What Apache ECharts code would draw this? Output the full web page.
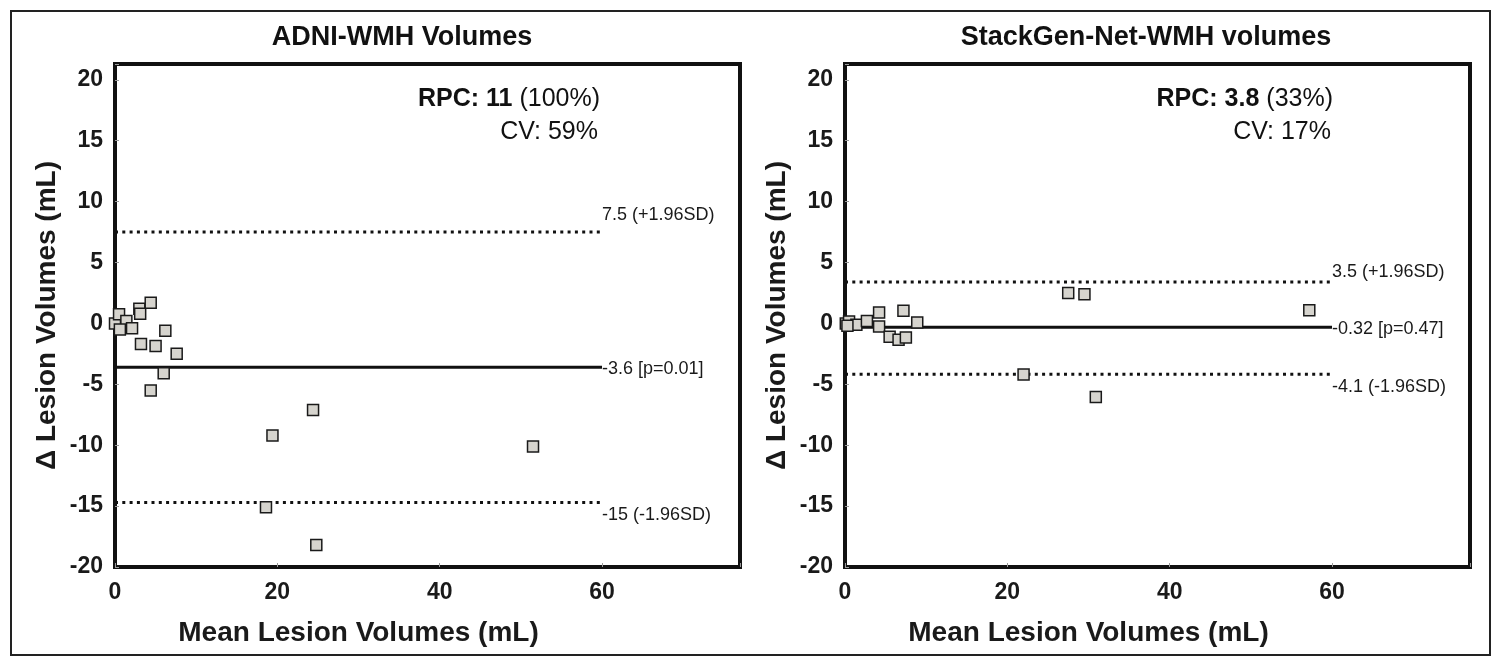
<!DOCTYPE html>
<html>
<head>
<meta charset="utf-8">
<script src="https://cdn.jsdelivr.net/npm/echarts@6/dist/echarts.min.js"></script>
<style>
html,body{margin:0;padding:0;background:#fff;}
#c{width:1500px;height:666px;}
</style>
</head>
<body>
<div id="c"></div>
<script>
// ---- data ----
const panelTitles = ['ADNI-WMH Volumes', 'StackGen-Net-WMH volumes'];
const xTitle = 'Mean Lesion Volumes (mL)';
const yTitle = '\u0394 Lesion Volumes (mL)';

const leftX = [0, 0.5, 1.4, 0.6, 2.1, 3.0, 3.1, 4.4, 6.2, 3.2, 5.0, 7.6, 6.0, 4.4, 19.4, 18.6, 24.8, 24.4, 51.5];
const leftY = [0, 0.75, 0.2, -0.5, -0.4, 1.2, 0.8, 1.7, -0.6, -1.7, -1.85, -2.5, -4.1, -5.5, -9.2, -15.1, -18.2, -7.1, -10.1];

const rightX = [0.1, 0.5, 1.4, 2.7, 4.2, 4.2, 7.2, 8.9, 5.5, 6.6, 7.5, 0.3, 27.5, 29.5, 57.2, 22.0, 30.9];
const rightY = [0, 0.15, -0.1, 0.2, 0.9, -0.25, 1.05, 0.07, -1.1, -1.35, -1.15, -0.2, 2.5, 2.4, 1.08, -4.2, -6.05];

// agreement lines: [upper, mean, lower]
const leftLines = [7.5, -3.6, -14.7];
const leftLineLabels = ['7.5 (+1.96SD)', '-3.6 [p=0.01]', '-15 (-1.96SD)'];
const rightLines = [3.4, -0.31, -4.17];
const rightLineLabels = ['3.5 (+1.96SD)', '-0.32 [p=0.47]', '-4.1 (-1.96SD)'];
const lineEndX = 60;

const rpcLeft = ['RPC: 11', ' (100%)', 'CV: 59%'];
const rpcRight = ['RPC: 3.8', ' (33%)', 'CV: 17%'];

const xTicks = [0, 20, 40, 60];
const yTicks = [-20, -15, -10, -5, 0, 5, 10, 15, 20];

// ---- chart ----
const FONT = '"Liberation Sans", Arial, Helvetica, sans-serif';
const chart = echarts.init(document.getElementById('c'), null, {renderer: 'canvas'});

function xAxis(i) {
  return {
    gridIndex: i, type: 'value', min: 0, max: 77, interval: 20,
    name: xTitle, nameLocation: 'middle', nameGap: 52,
    nameTextStyle: {fontFamily: FONT, fontWeight: 'bold', fontSize: 28, color: '#1a1a1a', padding: [0, 138, 0, 0]},
    axisLine: {show: false, onZero: false},
    axisTick: {show: true, inside: true, length: 4, lineStyle: {color: '#999', width: 1}},
    splitLine: {show: false},
    axisLabel: {
      fontFamily: FONT, fontWeight: 'bold', fontSize: 23, color: '#1a1a1a', margin: 14,
      formatter: v => (xTicks.indexOf(v) >= 0 ? String(v) : '')
    }
  };
}
function yAxis(i) {
  return {
    gridIndex: i, type: 'value', min: -20, max: 21.3, interval: 5,
    name: yTitle, nameLocation: 'middle', nameGap: 54, nameRotate: 90,
    nameTextStyle: {fontFamily: FONT, fontWeight: 'bold', fontSize: 28, color: '#1a1a1a'},
    axisLine: {show: false, onZero: false},
    axisTick: {show: true, inside: true, length: 4, lineStyle: {color: '#999', width: 1}},
    splitLine: {show: false},
    axisLabel: {
      fontFamily: FONT, fontWeight: 'bold', fontSize: 23, color: '#1a1a1a', margin: 12,
      formatter: v => (yTicks.indexOf(v) >= 0 ? String(v) : '')
    }
  };
}
function scatter(i, xs, ys) {
  return {
    type: 'scatter', xAxisIndex: i, yAxisIndex: i,
    data: xs.map((x, k) => [x, ys[k]]),
    symbol: 'rect', symbolSize: 11, z: 5,
    itemStyle: {color: '#d6d4ce', borderColor: '#1a1a1a', borderWidth: 1.5, opacity: 1}
  };
}
function refLine(i, v, txt, dotted, offset) {
  return {
    type: 'line', xAxisIndex: i, yAxisIndex: i,
    data: [[0, v], [lineEndX, v]],
    symbol: 'none', z: 3, silent: true,
    lineStyle: {color: '#111', width: 3, type: dotted ? [3, 4.3] : 'solid', cap: 'butt'},
    endLabel: {
      show: true, formatter: txt, distance: 0, offset: offset,
      fontFamily: FONT, fontSize: 18, color: '#1a1a1a'
    }
  };
}
function rpcTitle(left, top, arr) {
  return [
    {
      text: '{b|' + arr[0] + '}{n|' + arr[1] + '}',
      left: left, top: top, textAlign: 'right',
      textStyle: {fontWeight: 'normal', rich: {
        b: {fontFamily: FONT, fontWeight: 'bold', fontSize: 25, color: '#111'},
        n: {fontFamily: FONT, fontWeight: 'normal', fontSize: 25, color: '#111'}
      }}
    },
    {
      text: arr[2], left: left - 2, top: top + 33, textAlign: 'right',
      textStyle: {fontFamily: FONT, fontSize: 25, fontWeight: 'normal', color: '#111'}
    }
  ];
}

const option = {
  animation: false,
  backgroundColor: '#fff',
  title: [
    {text: panelTitles[0], left: 397, top: 19, textAlign: 'center',
     textStyle: {fontFamily: FONT, fontWeight: 'bold', fontSize: 27, color: '#111'}},
    {text: panelTitles[1], left: 1141, top: 19, textAlign: 'center',
     textStyle: {fontFamily: FONT, fontWeight: 'bold', fontSize: 27, color: '#111'}},
    ...rpcTitle(595, 82, rpcLeft),
    ...rpcTitle(1328, 82, rpcRight)
  ],
  graphic: [{
    type: 'rect', shape: {x: 11, y: 11, width: 1479, height: 644},
    style: {fill: 'none', stroke: '#222', lineWidth: 2}, silent: true
  }],
  grid: [
    {left: 115, top: 64, width: 625, height: 503, show: true, borderColor: '#111', borderWidth: 4, backgroundColor: '#fff'},
    {left: 845, top: 64, width: 625, height: 503, show: true, borderColor: '#111', borderWidth: 4, backgroundColor: '#fff'}
  ],
  xAxis: [xAxis(0), xAxis(1)],
  yAxis: [yAxis(0), yAxis(1)],
  series: [
    refLine(0, leftLines[0], leftLineLabels[0], true, [0, -17]),
    refLine(0, leftLines[1], leftLineLabels[1], false, [0, 2]),
    refLine(0, leftLines[2], leftLineLabels[2], true, [0, 13]),
    refLine(1, rightLines[0], rightLineLabels[0], true, [0, -10]),
    refLine(1, rightLines[1], rightLineLabels[1], false, [0, 2]),
    refLine(1, rightLines[2], rightLineLabels[2], true, [0, 13]),
    scatter(0, leftX, leftY),
    scatter(1, rightX, rightY)
  ]
};
chart.setOption(option);
</script>
</body>
</html>
